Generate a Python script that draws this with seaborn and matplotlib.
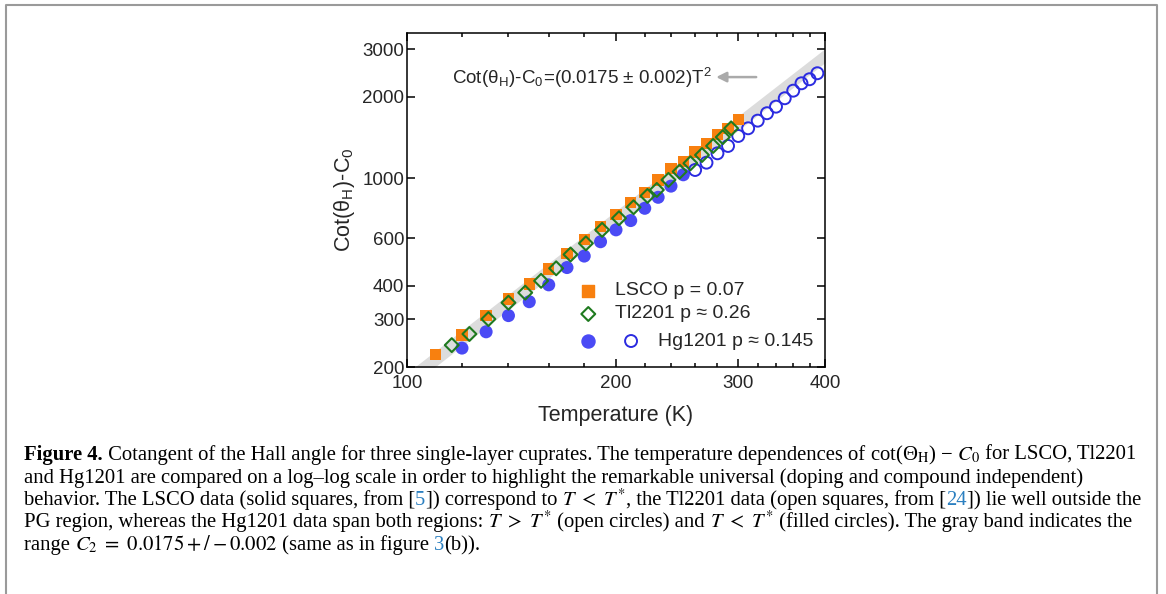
import matplotlib
matplotlib.use("Agg")
import matplotlib.pyplot as plt
import seaborn as sns
import pandas as pd
from matplotlib.lines import Line2D
from matplotlib.ticker import NullLocator, NullFormatter

# 데이터
lsco_T = [110, 120, 130, 140, 150, 160, 170, 180, 190, 200,
          210, 220, 230, 240, 250, 260, 270, 280, 290, 300]
lsco_Y = [223, 263, 310, 357, 406, 461, 528, 594, 662, 736,
          812, 884, 986, 1089, 1152, 1250, 1345, 1450, 1531, 1650]

tl_T = [116, 123, 131, 140, 148, 156, 164, 172, 181, 191, 202,
        212, 222, 229, 238, 247, 256, 266, 276, 285, 293]
tl_Y = [241, 265, 301, 346, 377, 417, 464, 522, 574, 644, 711,
        781, 860, 905, 986, 1058, 1136, 1219, 1317, 1420, 1530]

hg_fill_T = [120, 130, 140, 150, 160, 170, 180, 190, 200, 210, 220, 230, 240, 250]
hg_fill_Y = [235, 270, 310, 349, 403, 467, 515, 582, 644, 697, 774, 850, 935, 1030]

hg_open_T = [260, 270, 280, 290, 300, 310, 320, 330, 340, 350, 360, 370, 380, 390]
hg_open_Y = [1073, 1142, 1237, 1317, 1434, 1531, 1634, 1741, 1841, 1978, 2110, 2247, 2326, 2448]

# 회색 밴드 (0.0175 +/- 0.002)
band_T = [100, 400]
band_lo = [166, 2680]
band_hi = [190, 3020]

x_ticks = [100, 200, 300, 400]
x_minor = [120, 140, 160, 180, 220, 240, 260, 280, 320, 340, 360, 380]
y_ticks = [200, 300, 400, 600, 1000, 2000, 3000]

legend_labels = ["LSCO p = 0.07", "Tl2201 p \u2248 0.26", "Hg1201 p \u2248 0.145"]

ORANGE = "#F8800F"
GREEN = "#1F7A1F"
BLUE = "#4A4AF5"
BLUE_OPEN = "#2B2BE0"
BAND = "#DCDCDC"

W, H = 1166, 594

sns.set_theme(style="ticks")
plt.rcParams["font.family"] = ["Liberation Sans", "DejaVu Sans"]
plt.rcParams["mathtext.fontset"] = "stix"

fig = plt.figure(figsize=(W / 100, H / 100), dpi=100)
ax = fig.add_axes([407 / W, 1 - 367 / H, 418 / W, 334 / H])

ax.fill_between(band_T, band_lo, band_hi, color=BAND, lw=0, zorder=1)

df_hg1 = pd.DataFrame({"T": hg_fill_T, "Y": hg_fill_Y})
df_hg2 = pd.DataFrame({"T": hg_open_T, "Y": hg_open_Y})
df_lsco = pd.DataFrame({"T": lsco_T, "Y": lsco_Y})
df_tl = pd.DataFrame({"T": tl_T, "Y": tl_Y})

S_SQ, S_DI, S_FC, S_OC = 66, 50, 88, 74

sns.scatterplot(data=df_hg1, x="T", y="Y", marker="o", s=S_FC, color=BLUE,
                edgecolor="none", ax=ax, zorder=3)
sns.scatterplot(data=df_hg2, x="T", y="Y", marker="o", s=S_OC, facecolors="none",
                edgecolors=BLUE_OPEN, linewidth=1.4, ax=ax, zorder=3)
sns.scatterplot(data=df_lsco, x="T", y="Y", marker="s", s=S_SQ, color=ORANGE,
                edgecolor="none", ax=ax, zorder=4)
sns.scatterplot(data=df_tl, x="T", y="Y", marker="D", s=S_DI, facecolors="none",
                edgecolors=GREEN, linewidth=1.5, ax=ax, zorder=5)

ax.set_xscale("log")
ax.set_yscale("log")
ax.set_xlim(100, 400)
ax.set_ylim(200, 3450)
ax.set_xticks(x_ticks)
ax.set_xticklabels([str(v) for v in x_ticks])
ax.set_xticks(x_minor, minor=True)
ax.xaxis.set_minor_formatter(NullFormatter())
ax.set_yticks(y_ticks)
ax.set_yticklabels([str(v) for v in y_ticks])
ax.yaxis.set_minor_locator(NullLocator())

ax.tick_params(which="both", direction="in", top=True, right=True,
               width=1.1, color="black", labelsize=13.5)
ax.tick_params(axis="y", pad=2)
ax.tick_params(axis="x", pad=6)
ax.tick_params(which="major", length=6)
ax.tick_params(which="minor", length=3)
for sp in ax.spines.values():
    sp.set_linewidth(1.1)
    sp.set_color("black")

ax.set_xlabel("Temperature (K)", fontsize=15.5, labelpad=9)
ax.set_ylabel("Cot(\u03b8$_\\mathregular{H}$)-C$_\\mathregular{0}$", fontsize=15.5, labelpad=4)

# 수식 주석 + 화살표
ax.text(0.108, 0.865, "Cot(\u03b8$_\\mathregular{H}$)-C$_\\mathregular{0}$=(0.0175 \u00b1 0.002)T$^\\mathregular{2}$",
        transform=ax.transAxes, fontsize=13.5, va="center", ha="left")
ax.annotate("", xy=(0.733, 0.868), xytext=(0.842, 0.868), xycoords="axes fraction",
            arrowprops=dict(arrowstyle="-|>", color="#AAAAAA", lw=1.8, mutation_scale=15))

# 범례 (수동 배치)
ax.scatter([0.4337], [0.2285], transform=ax.transAxes, marker="s", s=S_SQ,
           color=ORANGE, clip_on=False, zorder=6)
ax.scatter([0.4337], [0.1587], transform=ax.transAxes, marker="D", s=S_DI,
           facecolors="none", edgecolors=GREEN, linewidth=1.5, clip_on=False, zorder=6)
ax.scatter([0.4337], [0.0778], transform=ax.transAxes, marker="o", s=S_FC,
           color=BLUE, clip_on=False, zorder=6)
ax.scatter([0.536], [0.0778], transform=ax.transAxes, marker="o", s=S_OC,
           facecolors="none", edgecolors=BLUE_OPEN, linewidth=1.4, clip_on=False, zorder=6)
ax.text(0.4976, 0.2285, legend_labels[0], transform=ax.transAxes, fontsize=14, va="center")
ax.text(0.4976, 0.1587, legend_labels[1], transform=ax.transAxes, fontsize=14, va="center")
ax.text(0.6005, 0.0778, legend_labels[2], transform=ax.transAxes, fontsize=14, va="center")

# 바깥 테두리
fig.add_artist(Line2D([6 / W, 6 / W, 1157 / W, 1157 / W], [-0.05, 1 - 5 / H, 1 - 5 / H, -0.05],
                      transform=fig.transFigure, color="#9A9A9A", lw=1.5))

# 캡션 (수식 부분은 따로 나눠서 그린다)
renderer = fig.canvas.get_renderer()
LINK = "#2A7FC0"
cap_font = dict(family=["Liberation Serif", "DejaVu Serif"])
TLT = "$T\\ <\\ T^{*}$"
TGT = "$T\\ >\\ T^{*}$"

caption = [
    [("Figure 4.", "b"),
     (" Cotangent of the Hall angle for three single-layer cuprates. The temperature dependences of ", "n"),
     ("cot(\u0398$_\\mathrm{H}$) \u2212 $C_0$", "n"), (" for LSCO, Tl2201", "n")],
    [("and Hg1201 are compared on a log\u2013log scale in order to highlight the remarkable universal "
      "(doping and compound independent)", "n")],
    [("behavior. The LSCO data (solid squares, from [", "n"), ("5", "l"),
     ("]) correspond to ", "n"), (TLT, "n"),
     (", the Tl2201 data (open squares, from [", "n"), ("24", "l"),
     ("]) lie well outside the", "n")],
    [("PG region, whereas the Hg1201 data span both regions: ", "n"), (TGT, "n"),
     (" (open circles) and ", "n"), (TLT, "n"),
     (" (filled circles). The gray band indicates the", "n")],
    [("range ", "n"), ("$C_2\\ =\\ 0.0175+/-0.002$", "n"), (" (same as in figure ", "n"),
     ("3", "l"), ("(b)).", "n")],
]
baselines = [460, 482.5, 505, 527.5, 550]


def seg_width(s, size, weight):
    t1 = fig.text(0, 0, "|" + s + "|", fontsize=size, fontweight=weight, **cap_font)
    t2 = fig.text(0, 0, "||", fontsize=size, fontweight=weight, **cap_font)
    w = t1.get_window_extent(renderer).width - t2.get_window_extent(renderer).width
    t1.remove()
    t2.remove()
    return w


# 첫 줄 폭에 맞춰 글자 크기 조정
base = 12
w0 = sum(seg_width(s, base, "bold" if st == "b" else "normal") for s, st in caption[0])
cap_size = base * (1135 - 24) / w0

for line, yb in zip(caption, baselines):
    x = 24
    for s, st in line:
        weight = "bold" if st == "b" else "normal"
        col = LINK if st == "l" else "black"
        fig.text(x / W, 1 - yb / H, s, fontsize=cap_size, fontweight=weight,
                 color=col, va="baseline", ha="left", **cap_font)
        x += seg_width(s, cap_size, weight)

fig.savefig("out.png", dpi=100)
